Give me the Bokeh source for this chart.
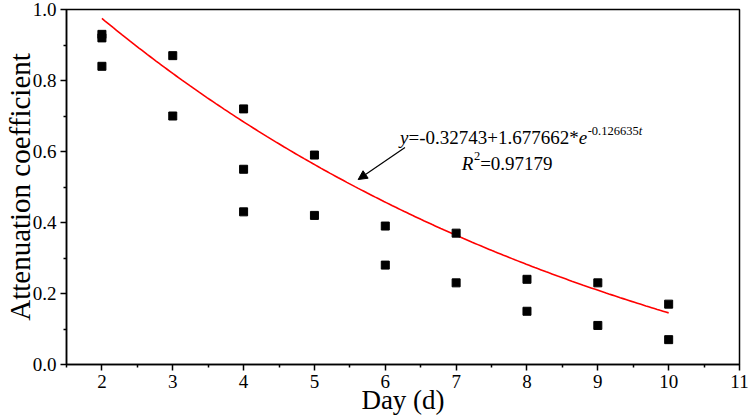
import numpy as np
from bokeh.plotting import figure
from bokeh.models import (Range1d, FixedTicker, PrintfTickFormatter, Label,
                          Arrow, NormalHead, ColumnDataSource)
from bokeh.embed import file_html
from bokeh.resources import INLINE

# ---- data ----
day = [2, 2, 2, 3, 3, 4, 4, 4, 5, 5, 6, 6, 7, 7, 8, 8, 9, 9, 10, 10]
coef = [0.93, 0.92, 0.84, 0.87, 0.70, 0.72, 0.55, 0.43, 0.59, 0.42,
        0.39, 0.28, 0.37, 0.23, 0.24, 0.15, 0.23, 0.11, 0.17, 0.07]

# fitted curve parameters as printed on the chart
fit_a = -0.32743
fit_b = 1.677662
fit_k = 0.126635
fit_r2 = 0.97179
fit_t_start = 2
fit_t_end = 10

x_ticks = [2, 3, 4, 5, 6, 7, 8, 9, 10, 11]
y_ticks = [0.0, 0.2, 0.4, 0.6, 0.8, 1.0]
x_title = "Day (d)"
y_title = "Attenuation coefficient"

FONT = "Liberation Serif"

p = figure(width=749, height=419, output_backend="svg", toolbar_location=None,
           x_range=Range1d(1.5, 11), y_range=Range1d(0, 1.0),
           min_border_left=63, min_border_right=10, min_border_top=9,
           min_border_bottom=55)
p.xgrid.visible = False
p.ygrid.visible = False
p.outline_line_color = "black"
p.outline_line_width = 1.5
p.background_fill_color = "white"
p.border_fill_color = "white"

for ax in (p.xaxis[0], p.yaxis[0]):
    ax.axis_line_width = 1.5
    ax.axis_line_color = "black"
    ax.major_tick_in = 0
    ax.major_tick_out = 6
    ax.minor_tick_in = 0
    ax.minor_tick_out = 3
    ax.major_tick_line_width = 1.5
    ax.minor_tick_line_width = 1.5
    ax.major_label_text_font = FONT
    ax.major_label_text_font_size = "19px"
    ax.major_label_text_color = "black"
    ax.axis_label_text_font = FONT
    ax.axis_label_text_font_style = "normal"
    ax.axis_label_text_color = "black"

p.xaxis[0].ticker = FixedTicker(ticks=x_ticks,
                                minor_ticks=[v + 0.5 for v in x_ticks] + [x_ticks[0] - 0.5])
p.yaxis[0].ticker = FixedTicker(ticks=y_ticks,
                                minor_ticks=[round(v + 0.1, 2) for v in y_ticks[:-1]])
p.yaxis[0].formatter = PrintfTickFormatter(format="%.1f")
p.xaxis[0].major_label_standoff = 4
p.yaxis[0].major_label_standoff = 4

p.xaxis[0].axis_label = x_title
p.yaxis[0].axis_label = y_title
p.xaxis[0].axis_label_text_font_size = "27px"
p.yaxis[0].axis_label_text_font_size = "29px"
p.xaxis[0].axis_label_standoff = -6
p.yaxis[0].axis_label_standoff = -6

# fitted curve
t = np.linspace(fit_t_start, fit_t_end, 200)
fit_y = fit_a + fit_b * np.exp(-fit_k * t)
p.line(t, fit_y, line_color="red", line_width=1.6)

# scatter
src = ColumnDataSource(dict(x=day, y=coef))
p.scatter("x", "y", source=src, marker="square", size=8,
          fill_color="black", line_color="black")

# ---- equation annotation ----
W = {"0": .5, "1": .5, "2": .5, "3": .5, "4": .5, "5": .5, "6": .5, "7": .5,
     "8": .5, "9": .5, ".": .25, "=": .564, "+": .564, "-": .333, "*": .5}
W_IT = {"y": .444, "e": .444, "t": .278, "R": .611}


def width(s, size, italic=False):
    tbl = W_IT if italic else W
    return sum(tbl.get(c, .5) for c in s) * size


MAIN = 19
SUP = 12.5
RAISE = 7

eq_x, eq_y = 6.208, 0.639
r2_x, r2_y = 7.08, 0.567


def piece(x, y, txt, size, italic, dx, dy):
    p.add_layout(Label(x=x, y=y, text=txt, x_offset=dx, y_offset=dy,
                       text_font=FONT, text_font_size=f"{size}px",
                       text_font_style="italic" if italic else "normal",
                       text_color="black", text_baseline="alphabetic",
                       text_align="left"))


mid = f"={fit_a}+{fit_b}*"
sup = f"-{fit_k}"
dx = 0
piece(eq_x, eq_y, "y", MAIN, True, dx, 0); dx += width("y", MAIN, True)
piece(eq_x, eq_y, mid, MAIN, False, dx, 0); dx += width(mid, MAIN)
piece(eq_x, eq_y, "e", MAIN, True, dx, 0); dx += width("e", MAIN, True) + 0.5
piece(eq_x, eq_y, sup, SUP, False, dx, RAISE); dx += width(sup, SUP)
piece(eq_x, eq_y, "t", SUP, True, dx, RAISE)

dx = 0
piece(r2_x, r2_y, "R", MAIN, True, dx, 0); dx += width("R", MAIN, True) + 0.5
piece(r2_x, r2_y, "2", SUP, False, dx, RAISE); dx += width("2", SUP)
rest = f"={fit_r2}"
piece(r2_x, r2_y, rest, MAIN, False, dx, 0)

p.add_layout(Arrow(x_start=6.278, y_start=0.611, x_end=5.617, y_end=0.521,
                   line_color="black", line_width=1.2,
                   end=NormalHead(size=9, fill_color="black", line_color="black")))

open("out.html", "w").write(file_html(p, INLINE))
